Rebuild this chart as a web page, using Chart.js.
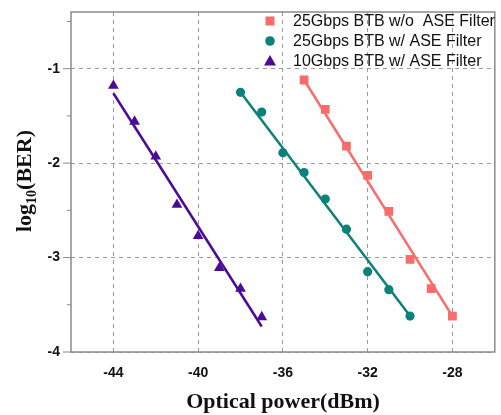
<!DOCTYPE html>
<html>
<head>
<meta charset="utf-8">
<style>
  html, body { margin: 0; padding: 0; background: #fff; }
  #wrap { width: 501px; height: 415px; }
</style>
</head>
<body>
<div id="wrap"><canvas id="chart"></canvas></div>
<script src="https://cdn.jsdelivr.net/npm/chart.js@4/dist/chart.umd.min.js"></script>
<script>
// tick positions
const xTicks = [-44, -40, -36, -32, -28];
const yTicks = [-4, -3, -2, -1];
const yMinor = [-3.5, -2.5, -1.5, -0.5];

// 25Gbps BTB w/o ASE filter
const powNoAse = [-35, -34, -33, -32, -31, -30, -29, -28];
const berNoAse = [-1.12, -1.43, -1.82, -2.13, -2.51, -3.02, -3.33, -3.62];
const fitNoAseX = [-35, -28];
const fitNoAseY = [-1.12, -3.62];

// 25Gbps BTB w/ ASE filter
const pow25 = [-38, -37, -36, -35, -34, -33, -32, -31, -30];
const ber25 = [-1.25, -1.46, -1.89, -2.10, -2.38, -2.70, -3.15, -3.34, -3.62];
const fit25X = [-38, -30];
const fit25Y = [-1.25, -3.62];

// 10Gbps BTB w/ ASE filter
const pow10 = [-44, -43, -42, -41, -40, -39, -38, -37];
const ber10 = [-1.18, -1.56, -1.93, -2.44, -2.77, -3.11, -3.33, -3.63];
const fit10X = [-44, -37];
const fit10Y = [-1.26, -3.73];

const SALMON = '#fa6b6b';
const TEAL = '#0b8279';
const PURPLE = '#4c0a98';
const GRID = '#9b9b9b';
const AXIS = '#8a8a8a';

const pts = (xs, ys) => xs.map((x, i) => ({ x, y: ys[i] }));

const marks = (label, xs, ys, color, style, r) => ({
  label, data: pts(xs, ys), showLine: false,
  pointStyle: style, pointRadius: r, pointHoverRadius: r,
  backgroundColor: color, borderColor: color, borderWidth: 0,
});
const fitLine = (xs, ys, color) => ({
  label: '', fit: true, data: pts(xs, ys), showLine: true,
  pointRadius: 0, pointHoverRadius: 0, borderColor: color, borderWidth: 2.5,
});

const tickFont = { family: "'Liberation Sans', Arial, sans-serif", size: 14, weight: 'bold' };
const titleFont = "bold 22px 'Liberation Serif', 'Times New Roman', serif";
const subFont = "bold 14px 'Liberation Serif', 'Times New Roman', serif";

// frame, minor ticks, titles and legend
const decor = {
  id: 'decor',
  afterDraw(chart) {
    const { ctx, chartArea: a, scales: { y } } = chart;
    ctx.save();
    ctx.strokeStyle = AXIS;
    ctx.lineWidth = 1.5;
    ctx.strokeRect(a.left, a.top, a.right - a.left, a.bottom - a.top);
    ctx.lineWidth = 1;
    ctx.beginPath();
    yTicks.forEach((v) => { const p = y.getPixelForValue(v); ctx.moveTo(a.left - 8, p); ctx.lineTo(a.left, p); });
    yMinor.forEach((v) => { const p = y.getPixelForValue(v); ctx.moveTo(a.left - 4, p); ctx.lineTo(a.left, p); });
    ctx.stroke();

    // x title
    ctx.fillStyle = '#111';
    ctx.font = titleFont;
    ctx.textAlign = 'center';
    ctx.textBaseline = 'alphabetic';
    ctx.fillText('Optical power(dBm)', 283, 408);

    // y title with subscript
    ctx.translate(31, 181);
    ctx.rotate(-Math.PI / 2);
    ctx.textAlign = 'left';
    ctx.font = titleFont; const w1 = ctx.measureText('log').width; const w3 = ctx.measureText('(BER)').width;
    ctx.font = subFont; const w2 = ctx.measureText('10').width;
    const x0 = -(w1 + w2 + w3) / 2;
    ctx.font = titleFont; ctx.fillText('log', x0, 0);
    ctx.font = subFont; ctx.fillText('10', x0 + w1, 5);
    ctx.font = titleFont; ctx.fillText('(BER)', x0 + w1 + w2, 0);
    ctx.setTransform(1, 0, 0, 1, 0, 0);

    // legend
    ctx.font = "16px 'Liberation Sans', Arial, sans-serif";
    ctx.textAlign = 'left';
    ctx.textBaseline = 'middle';
    const items = chart.data.datasets.filter((d) => !d.fit);
    items.forEach((d, i) => {
      const cy = 21 + i * 20;
      const cx = 270;
      ctx.fillStyle = d.backgroundColor;
      ctx.beginPath();
      if (d.pointStyle === 'rect') ctx.rect(cx - 4.5, cy - 4.5, 9, 9);
      else if (d.pointStyle === 'circle') ctx.arc(cx, cy, 4.8, 0, Math.PI * 2);
      else { ctx.moveTo(cx, cy - 6); ctx.lineTo(cx + 6, cy + 4.5); ctx.lineTo(cx - 6, cy + 4.5); ctx.closePath(); }
      ctx.fill();
      ctx.fillStyle = '#111';
      ctx.fillText(d.label, 293, cy + 1);
    });
    ctx.restore();
  },
};

new Chart(document.getElementById('chart'), {
  type: 'scatter',
  data: {
    datasets: [
      marks('25Gbps BTB w/o  ASE Filter', powNoAse, berNoAse, SALMON, 'rect', 6.2),
      marks('25Gbps BTB w/ ASE Filter', pow25, ber25, TEAL, 'circle', 4.6),
      marks('10Gbps BTB w/ ASE Filter', pow10, ber10, PURPLE, 'triangle', 6.2),
      fitLine(fitNoAseX, fitNoAseY, SALMON),
      fitLine(fit25X, fit25Y, TEAL),
      fitLine(fit10X, fit10Y, PURPLE),
    ],
  },
  options: {
    responsive: true,
    maintainAspectRatio: false,
    animation: false,
    layout: { padding: { top: 12, right: 6, left: 0, bottom: 0 } },
    plugins: { legend: { display: false }, tooltip: { enabled: false } },
    scales: {
      x: {
        type: 'linear', min: -46, max: -26,
        afterBuildTicks: (s) => { s.ticks = xTicks.map((v) => ({ value: v })); },
        afterFit: (s) => { s.height = 63; s.paddingLeft = 0; s.paddingRight = 0; },
        ticks: { font: tickFont, color: '#111', padding: 13 },
        grid: { color: GRID, lineWidth: 1, drawTicks: false },
        border: { display: false, dash: [4, 4] },
      },
      y: {
        min: -4, max: -0.4,
        afterBuildTicks: (s) => { s.ticks = yTicks.map((v) => ({ value: v })); },
        afterFit: (s) => { s.width = 71; s.paddingTop = 0; s.paddingBottom = 0; },
        ticks: { font: tickFont, color: '#111', padding: 11 },
        grid: { color: GRID, lineWidth: 1, drawTicks: false },
        border: { display: false, dash: [4, 4] },
      },
    },
  },
  plugins: [decor],
});
</script>
</body>
</html>
